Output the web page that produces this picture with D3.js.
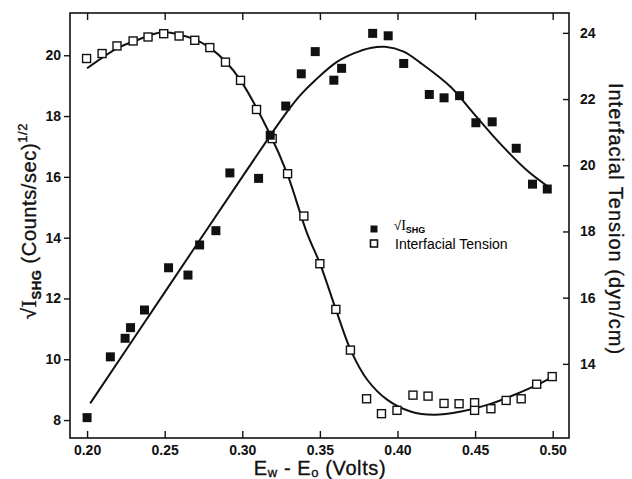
<!DOCTYPE html>
<html>
<head>
<meta charset="utf-8">
<script src="https://cdn.jsdelivr.net/npm/d3@7"></script>
<style>
  body { margin: 0; background: #fff; }
  svg { font-family: "Liberation Sans", Arial, sans-serif; }
  .frame { fill: none; stroke: #111; stroke-width: 1.6; }
  .tick line { stroke: #111; stroke-width: 1.4; }
  .tick text { font-size: 14px; font-weight: bold; fill: #111; }
  .domain { display: none; }
  .fit { fill: none; stroke: #111; stroke-width: 2; }
  .title { font-size: 20px; fill: #111; stroke: #111; stroke-width: 0.35; letter-spacing: 0.6px; }
</style>
</head>
<body>
<div id="chart"></div>
<script>
// E_w - E_o (Volts), sqrt(I_SHG) in (counts/sec)^1/2
var shg_x = [0.200, 0.215, 0.2245, 0.228, 0.237, 0.2525, 0.265, 0.2725, 0.283, 0.292,
             0.3105, 0.318, 0.328, 0.338, 0.347, 0.359, 0.364, 0.384, 0.394, 0.404,
             0.4205, 0.430, 0.440, 0.4505, 0.461, 0.4765, 0.487, 0.4965];
var shg_y = [8.08, 10.08, 10.69, 11.04, 11.62, 13.01, 12.77, 13.76, 14.23, 16.13,
             15.95, 17.37, 18.33, 19.39, 20.12, 19.18, 19.57, 20.72, 20.64, 19.73,
             18.71, 18.60, 18.67, 17.78, 17.81, 16.94, 15.76, 15.60];

// interfacial tension (dyn/cm)
var ift_x = [0.200, 0.210, 0.2196, 0.230, 0.2396, 0.2497, 0.2596, 0.2697, 0.2794, 0.2895,
             0.2992, 0.3095, 0.3196, 0.3295, 0.340, 0.3503, 0.3606, 0.370, 0.3804, 0.390,
             0.400, 0.4103, 0.420, 0.4303, 0.440, 0.450, 0.450, 0.4605, 0.4703, 0.480,
             0.490, 0.500];
var ift_y = [23.21, 23.36, 23.59, 23.74, 23.86, 23.96, 23.89, 23.76, 23.54, 23.10,
             22.55, 21.67, 20.79, 19.73, 18.45, 17.01, 15.63, 14.40, 12.93, 12.48,
             12.58, 13.04, 13.01, 12.79, 12.78, 12.81, 12.58, 12.63, 12.88, 12.93,
             13.37, 13.60];

// fitted curves
var shg_fit_x = [0.202, 0.25, 0.30, 0.319, 0.3288, 0.3374, 0.347, 0.361, 0.3718, 0.3826,
                 0.392, 0.404, 0.4148, 0.434, 0.449, 0.466, 0.4837, 0.4976];
var shg_fit_y = [8.55, 12.2, 16.0, 17.43, 18.14, 18.69, 19.18, 19.78, 20.06, 20.24,
                 20.28, 20.12, 19.75, 18.97, 18.09, 17.1, 16.2, 15.66];
var ift_fit_x = [0.200, 0.2196, 0.230, 0.249, 0.270, 0.2794, 0.2895, 0.2987, 0.318, 0.3288,
                 0.3417, 0.3503, 0.3606, 0.370, 0.3805, 0.3935, 0.4084, 0.4235, 0.441, 0.4579,
                 0.475, 0.4923, 0.5008];
var ift_fit_y = [22.93, 23.54, 23.74, 24.02, 23.79, 23.54, 23.12, 22.58, 20.92, 19.76,
                 17.95, 17.0, 15.6, 14.4, 13.52, 12.91, 12.56, 12.46, 12.56, 12.76,
                 13.06, 13.42, 13.62];

var x_ticks = [0.20, 0.25, 0.30, 0.35, 0.40, 0.45, 0.50];
var left_ticks = [8, 10, 12, 14, 16, 18, 20];
var right_ticks = [14, 16, 18, 20, 22, 24];

var width = 632, height = 479;
var m = {left: 70, right: 569, top: 13, bottom: 438};

var svg = d3.select("#chart").append("svg")
    .attr("width", width)
    .attr("height", height);

var x = d3.scaleLinear().domain([0.189, 0.5105]).range([m.left, m.right]);
var yl = d3.scaleLinear().domain([7.41, 21.39]).range([m.bottom, m.top]);
var yr = d3.scaleLinear().domain([11.76, 24.6]).range([m.bottom, m.top]);

// axes
svg.append("g")
    .attr("transform", "translate(0," + m.bottom + ")")
    .call(d3.axisBottom(x).tickValues(x_ticks).tickFormat(d3.format(".2f"))
        .tickSizeInner(-7).tickPadding(7));
svg.append("g")
    .attr("transform", "translate(0," + m.top + ")")
    .call(d3.axisTop(x).tickValues(x_ticks).tickFormat("").tickSizeInner(-7));
svg.append("g")
    .attr("transform", "translate(" + m.left + ",0)")
    .call(d3.axisLeft(yl).tickValues(left_ticks).tickSizeInner(6).tickPadding(3));
svg.append("g")
    .attr("transform", "translate(" + m.right + ",0)")
    .call(d3.axisRight(yr).tickValues(right_ticks).tickSizeInner(-6).tickPadding(11));

svg.append("rect").classed("frame", true)
    .attr("x", m.left).attr("y", m.top)
    .attr("width", m.right - m.left).attr("height", m.bottom - m.top);

// fit lines
var line_l = d3.line().curve(d3.curveCatmullRom)
    .x(function(d) { return x(d[0]); })
    .y(function(d) { return yl(d[1]); });
var line_r = d3.line().curve(d3.curveCatmullRom)
    .x(function(d) { return x(d[0]); })
    .y(function(d) { return yr(d[1]); });

svg.append("path").classed("fit", true)
    .attr("d", line_l(d3.zip(shg_fit_x, shg_fit_y)));
svg.append("path").classed("fit", true)
    .attr("d", line_r(d3.zip(ift_fit_x, ift_fit_y)));

// points
var s = 9;
svg.selectAll(".ift").data(d3.zip(ift_x, ift_y)).enter().append("rect")
    .classed("ift", true)
    .attr("x", function(d) { return x(d[0]) - s/2; })
    .attr("y", function(d) { return yr(d[1]) - s/2; })
    .attr("width", s - 1).attr("height", s - 1)
    .attr("fill", "#fff").attr("stroke", "#111").attr("stroke-width", 1.4);

svg.selectAll(".shg").data(d3.zip(shg_x, shg_y)).enter().append("rect")
    .classed("shg", true)
    .attr("x", function(d) { return x(d[0]) - s/2; })
    .attr("y", function(d) { return yl(d[1]) - s/2; })
    .attr("width", s).attr("height", s)
    .attr("fill", "#111");

// legend
var lg = svg.append("g").attr("transform", "translate(374,229)");
lg.append("rect").attr("x", -3.5).attr("y", -3.5).attr("width", 7).attr("height", 7)
    .attr("fill", "#111");
var lt = lg.append("text").attr("x", 20).attr("y", 1).style("font-size", "13px");
lt.append("tspan").text("\u221A");
lt.append("tspan").style("font-family", "'Liberation Serif', serif").style("font-size", "14px").text("I");
lt.append("tspan").attr("dy", 3).style("font-size", "9px").style("font-weight", "bold").text("SHG");
lg.append("rect").attr("x", -3.5).attr("y", 11).attr("width", 7).attr("height", 7)
    .attr("fill", "#fff").attr("stroke", "#111").attr("stroke-width", 1.6);
lg.append("text").attr("x", 21).attr("y", 20).style("font-size", "14px")
    .text("Interfacial Tension");

// axis titles
var xt = svg.append("text").classed("title", true)
    .attr("x", 320).attr("y", 475).attr("text-anchor", "middle");
xt.append("tspan").text("E");
xt.append("tspan").attr("dy", 2).style("font-size", "13px").text("w");
xt.append("tspan").attr("dy", -2).text(" - E");
xt.append("tspan").attr("dy", 2).style("font-size", "13px").text("o");
xt.append("tspan").attr("dy", -2).text(" (Volts)");

var ylt = svg.append("text").classed("title", true)
    .attr("transform", "translate(36,221) rotate(-90)")
    .attr("text-anchor", "middle");
ylt.append("tspan").text("\u221A");
ylt.append("tspan").style("font-family", "'Liberation Serif', serif").style("font-size", "22px").text("I");
ylt.append("tspan").attr("dy", 5).style("font-size", "13px").style("font-weight", "bold").text("SHG");
ylt.append("tspan").attr("dy", -5).text(" (Counts/sec)");
ylt.append("tspan").attr("dy", -9).style("font-size", "13px").text("1/2");

svg.append("text").classed("title", true)
    .attr("transform", "translate(609,219) rotate(90)")
    .attr("text-anchor", "middle")
    .style("letter-spacing", "1px")
    .text("Interfacial Tension (dyn/cm)");
</script>
</body>
</html>
